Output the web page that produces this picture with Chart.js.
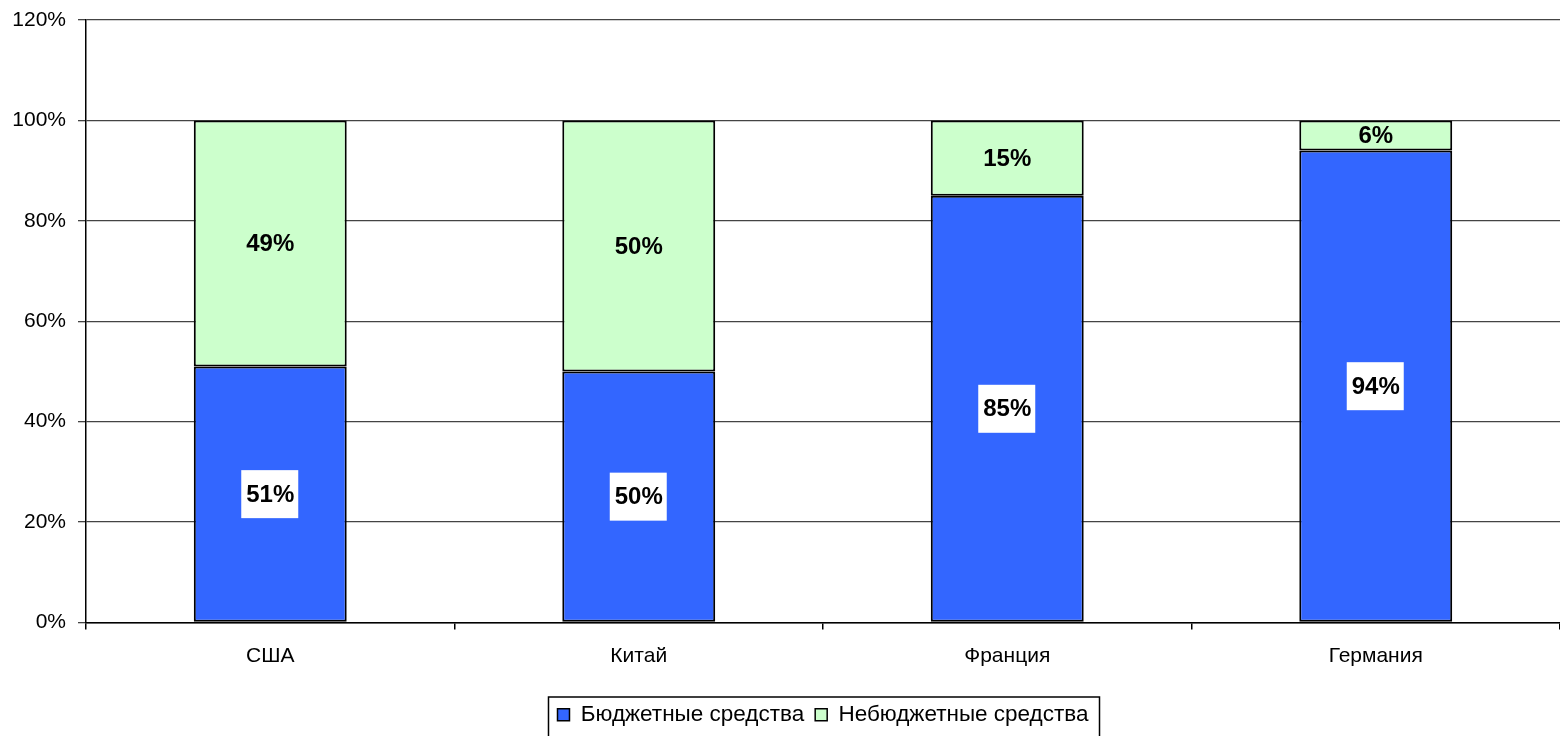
<!DOCTYPE html>
<html>
<head>
<meta charset="utf-8">
<script src="https://cdn.jsdelivr.net/npm/chart.js@4"></script>
<style>
html,body{margin:0;padding:0;background:#fff;}
#wrap{width:1560px;height:736px;position:relative;}
</style>
</head>
<body>
<div id="wrap"><canvas id="c" width="1560" height="736"></canvas></div>
<script>
const categories = ['США', 'Китай', 'Франция', 'Германия'];
const budget = [51, 50, 85, 94];
const nonBudget = [49, 50, 15, 6];
const seriesNames = ['Бюджетные средства', 'Небюджетные средства'];
const yTicks = [0, 20, 40, 60, 80, 100, 120];

const FONT = '"Liberation Sans", Arial, sans-serif';

const labelPlugin = {
  id: 'segLabels',
  afterDatasetsDraw(chart) {
    const ctx = chart.ctx;
    ctx.save();
    ctx.font = 'bold 24px ' + FONT;
    ctx.textAlign = 'center';
    ctx.textBaseline = 'middle';
    chart.data.datasets.forEach((ds, di) => {
      const meta = chart.getDatasetMeta(di);
      meta.data.forEach((bar, i) => {
        const v = ds.data[i];
        const p = bar.getProps(['x', 'y', 'base'], true);
        const cy = (p.y + p.base) / 2;
        const txt = v + '%';
        if (di === 0) {
          ctx.fillStyle = '#ffffff';
          ctx.fillRect(p.x - 29, cy - 24, 57, 48);
        }
        ctx.fillStyle = '#000000';
        ctx.fillText(txt, p.x, cy + 1);
      });
    });
    ctx.restore();
  }
};

const legendBoxPlugin = {
  id: 'legendBox',
  afterDraw(chart) {
    const lg = chart.legend;
    if (!lg || !lg.legendHitBoxes || !lg.legendHitBoxes.length) return;
    const hb = lg.legendHitBoxes;
    let l = Infinity, r = -Infinity;
    hb.forEach(b => { l = Math.min(l, b.left); r = Math.max(r, b.left + b.width); });
    const ctx = chart.ctx;
    ctx.save();
    ctx.strokeStyle = '#000';
    ctx.lineWidth = 1.5;
    ctx.strokeRect(l - 9, 697, (r - l) + 20, 50);
    ctx.restore();
  }
};

new Chart(document.getElementById('c'), {
  type: 'bar',
  data: {
    labels: categories,
    datasets: [
      { label: seriesNames[0], data: budget, backgroundColor: '#3366FF', borderColor: '#000000', borderWidth: 2, borderSkipped: false },
      { label: seriesNames[1], data: nonBudget, backgroundColor: '#CCFFCC', borderColor: '#000000', borderWidth: 2, borderSkipped: false }
    ]
  },
  options: {
    responsive: false,
    animation: false,
    devicePixelRatio: 1,
    layout: { padding: { top: 20, right: 0, bottom: 0, left: 0 } },
    datasets: { bar: { barPercentage: 0.415, categoryPercentage: 1.0 } },
    plugins: {
      tooltip: { enabled: false },
      legend: {
        position: 'bottom',
        fullSize: false,
        labels: {
          font: { family: FONT, size: 22.5 },
          color: '#000',
          boxWidth: 12,
          boxHeight: 12,
          padding: 11,
          generateLabels(chart) {
            return chart.data.datasets.map((ds, i) => ({
              text: ds.label,
              fillStyle: ds.backgroundColor,
              strokeStyle: '#000',
              lineWidth: 1.5,
              datasetIndex: i,
              hidden: false
            }));
          }
        }
      }
    },
    scales: {
      x: {
        stacked: true,
        afterFit(s) { s.height = 70; },
        grid: { display: true, drawOnChartArea: false, drawTicks: true, tickLength: 7, offset: true, color: '#000', lineWidth: 1.5 },
        border: { display: true, color: '#000', width: 1.5 },
        ticks: { color: '#000', font: { family: FONT, size: 21 }, padding: 14 }
      },
      y: {
        stacked: true,
        min: 0,
        max: 120,
        afterFit(s) { s.width = 86; s.paddingTop = 0; s.paddingBottom = 0; },
        afterBuildTicks(s) { s.ticks = yTicks.map(v => ({ value: v })); },
        grid: { color: '#444', lineWidth: 1.3, drawTicks: true, tickLength: 8 },
        border: { display: true, color: '#000', width: 1.5 },
        ticks: { color: '#000', font: { family: FONT, size: 21 }, padding: 12, callback: v => v + '%' }
      }
    }
  },
  plugins: [labelPlugin, legendBoxPlugin]
});
</script>
</body>
</html>
